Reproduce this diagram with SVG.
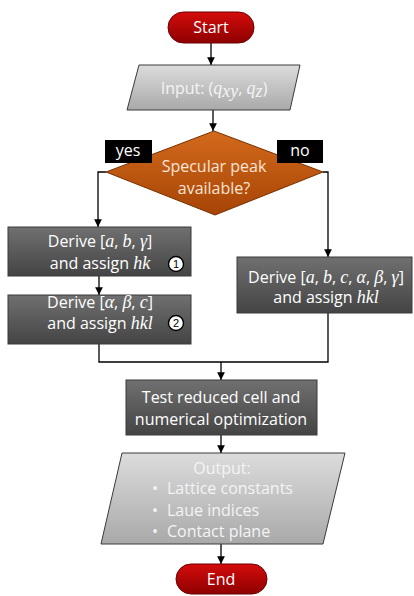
<svg xmlns="http://www.w3.org/2000/svg" width="414" height="596" viewBox="0 0 414 596">
<defs>
<linearGradient id="gRed" x1="0" y1="0" x2="0" y2="1"><stop offset="0" stop-color="#d40c0c"/><stop offset="1" stop-color="#8e0000"/></linearGradient>
<linearGradient id="gLight" x1="0" y1="0" x2="0" y2="1"><stop offset="0" stop-color="#dcdcdc"/><stop offset="1" stop-color="#a9a9a9"/></linearGradient>
<linearGradient id="gDark" x1="0" y1="0" x2="0" y2="1"><stop offset="0" stop-color="#707070"/><stop offset="1" stop-color="#444444"/></linearGradient>
<linearGradient id="gOrange" x1="0" y1="0" x2="0" y2="1"><stop offset="0" stop-color="#d36a1c"/><stop offset="1" stop-color="#a64406"/></linearGradient>
<marker id="arr" viewBox="0 0 10 10" refX="10" refY="5" markerWidth="6" markerHeight="6" orient="auto"><path d="M0,0 L10,5 L0,10 z" fill="#000"/></marker>
</defs>
<style>
.t{font-family:"Open Sans","Liberation Sans",sans-serif;font-size:16px;text-anchor:middle;fill:#ffffff}
.tl{font-family:"Open Sans","Liberation Sans",sans-serif;font-size:16px;fill:#f4f4f4}
.m{font-family:"Liberation Serif","DejaVu Serif",serif;font-style:italic;font-size:18px}
.c{fill:none;stroke:#000;stroke-width:1.3}
.ca{fill:none;stroke:#000;stroke-width:1.3;marker-end:url(#arr)}
.sd{stroke:#3a3a3a;stroke-width:1}
</style>
<g id="connectors">
<line class="ca" x1="211" y1="43" x2="211" y2="65"/>
<line class="ca" x1="213" y1="110" x2="213" y2="131"/>
<polyline class="ca" points="106,172 98,172 98,227"/>
<polyline class="ca" points="323,172 328,172 328,257"/>
<line class="ca" x1="99" y1="276" x2="99" y2="295"/>
<polyline class="c" points="99,344 99,362 328,362 328,313"/>
<line class="ca" x1="221" y1="362" x2="221" y2="380"/>
<line class="ca" x1="221" y1="435" x2="221" y2="453"/>
<line class="ca" x1="221" y1="544" x2="221" y2="564"/>
</g>
<g id="start">
<rect x="168" y="12" width="86" height="31" rx="15.5" fill="url(#gRed)" stroke="#6b0000" stroke-width="1"/>
<text class="t" x="211" y="33" font-size="16.5">Start</text>
</g>
<g id="input">
<polygon points="139,65 300,65 290,110 127,110" fill="url(#gLight)" class="sd"/>
<text class="tl" x="214" y="94" text-anchor="middle">Input: (<tspan class="m">q</tspan><tspan class="m" font-size="12" dy="3">xy</tspan><tspan dy="-3">, </tspan><tspan class="m">q</tspan><tspan class="m" font-size="12" dy="3">z</tspan><tspan dy="-3">)</tspan></text>
</g>
<g id="decision">
<polygon points="214,131 323,172 215,215 106,172" fill="url(#gOrange)" stroke="#7a3000" stroke-width="1"/>
<text class="t" x="214" y="172" font-size="15.5" style="fill:#fbe5d6">Specular peak</text>
<text class="t" x="214" y="194" font-size="15.5" style="fill:#fbe5d6">available?</text>
</g>
<g id="label-yes">
<rect x="105" y="140" width="47" height="23" fill="#000"/>
<text class="t" x="128" y="156" font-size="14">yes</text>
</g>
<g id="label-no">
<rect x="277" y="140" width="46" height="23" fill="#000"/>
<text class="t" x="300" y="156" font-size="14">no</text>
</g>
<g id="derive1">
<rect x="8" y="227" width="183" height="49" fill="url(#gDark)" class="sd"/>
<text class="t" x="100" y="247">Derive [<tspan class="m">a</tspan>, <tspan class="m">b</tspan>, <tspan class="m">γ</tspan>]</text>
<text class="t" x="100" y="269">and assign <tspan class="m">hk</tspan></text>
<circle cx="176" cy="264" r="7.5" fill="#ffffff" stroke="#000000" stroke-width="1.4"/>
<text x="176" y="268" font-family="Liberation Sans, sans-serif" font-size="11" text-anchor="middle" fill="#000000">1</text>
</g>
<g id="derive2">
<rect x="8" y="295" width="183" height="49" fill="url(#gDark)" class="sd"/>
<text class="t" x="100" y="308">Derive [<tspan class="m">α</tspan>, <tspan class="m">β</tspan>, <tspan class="m">c</tspan>]</text>
<text class="t" x="100" y="329">and assign <tspan class="m">hkl</tspan></text>
<circle cx="176" cy="323" r="7.5" fill="#ffffff" stroke="#000000" stroke-width="1.4"/>
<text x="176" y="327" font-family="Liberation Sans, sans-serif" font-size="11" text-anchor="middle" fill="#000000">2</text>
</g>
<g id="derive-all">
<rect x="237" y="257" width="175" height="56" fill="url(#gDark)" class="sd"/>
<text class="t" x="326" y="283">Derive [<tspan class="m">a</tspan>, <tspan class="m">b</tspan>, <tspan class="m">c</tspan>, <tspan class="m">α</tspan>, <tspan class="m">β</tspan>, <tspan class="m">γ</tspan>]</text>
<text class="t" x="326" y="303">and assign <tspan class="m">hkl</tspan></text>
</g>
<g id="test">
<rect x="126" y="380" width="191" height="55" fill="url(#gDark)" class="sd"/>
<text class="t" x="221" y="403" font-size="16.5">Test reduced cell and</text>
<text class="t" x="221" y="425" font-size="16.5">numerical optimization</text>
</g>
<g id="output">
<polygon points="122,453 345,453 323,544 101,544" fill="url(#gLight)" class="sd"/>
<text class="tl" x="222" y="474" text-anchor="middle">Output:</text>
<text class="tl" x="152" y="494">•</text><text class="tl" x="167" y="494">Lattice constants</text>
<text class="tl" x="152" y="516">•</text><text class="tl" x="167" y="516">Laue indices</text>
<text class="tl" x="152" y="537">•</text><text class="tl" x="167" y="537">Contact plane</text>
</g>
<g id="end">
<rect x="176" y="564" width="91" height="30" rx="15" fill="url(#gRed)" stroke="#6b0000" stroke-width="1"/>
<text class="t" x="221" y="585" font-size="16.5">End</text>
</g>
</svg>
